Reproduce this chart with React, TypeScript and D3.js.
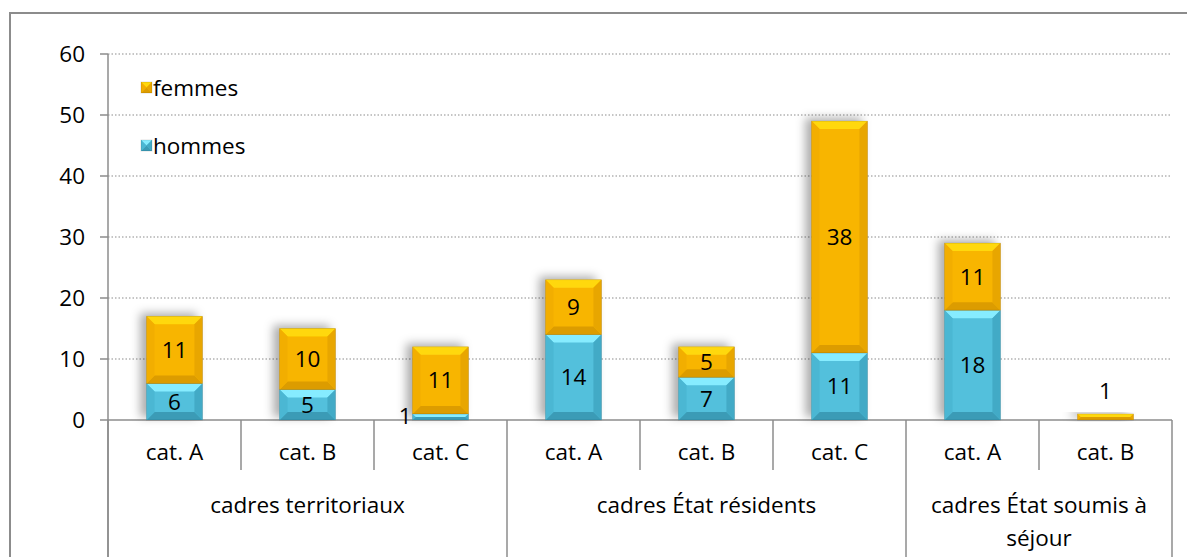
import { useEffect, useRef } from 'react';
import * as d3 from 'd3';

const categories = ['cat. A', 'cat. B', 'cat. C', 'cat. A', 'cat. B', 'cat. C', 'cat. A', 'cat. B'];
const groups = [
  { name: ['cadres territoriaux'], size: 3 },
  { name: ['cadres État résidents'], size: 3 },
  { name: ['cadres État soumis à', 'séjour'], size: 2 },
];
const hommes = [6, 5, 1, 14, 7, 11, 18, 0];
const femmes = [11, 10, 11, 9, 5, 38, 11, 1];
const yTicks = [0, 10, 20, 30, 40, 50, 60];

const FONT = '"Open Sans", "Noto Sans", sans-serif';
const FS = 22.5;

const palette = {
  femmes: { main: '#f8b500', top: '#ffd80c', bottom: '#dc9c00', left: '#f2ae00', right: '#e8a600' },
  hommes: { main: '#52c0dc', top: '#86ecff', bottom: '#3a9bb6', left: '#4bb7d3', right: '#43aac6' },
};

export default function App() {
  const svgRef = useRef<SVGSVGElement | null>(null);

  useEffect(() => {
    if (!svgRef.current) return;
    const width = 1187;
    const height = 557;
    const svg = d3.select(svgRef.current).attr('width', width).attr('height', height);
    svg.selectAll('*').remove();

    const left = 108,
      right = 1172,
      top = 54,
      bottom = 420;

    const x = d3
      .scaleBand<number>()
      .domain(d3.range(categories.length))
      .range([left, right])
      .paddingInner(0.58)
      .paddingOuter(0.29);
    const step = x.step();
    const y = d3.scaleLinear().domain([0, 60]).range([bottom, top]);

    const defs = svg.append('defs');
    const f = defs
      .append('filter')
      .attr('id', 'shadow')
      .attr('x', '-50%')
      .attr('y', '-20%')
      .attr('width', '200%')
      .attr('height', '140%');
    f.append('feDropShadow')
      .attr('dx', -6)
      .attr('dy', -3)
      .attr('stdDeviation', 5)
      .attr('flood-color', '#000')
      .attr('flood-opacity', 0.32);

    // outer frame
    svg
      .append('rect')
      .attr('x', 10)
      .attr('y', 13)
      .attr('width', 1200)
      .attr('height', 600)
      .attr('fill', 'white')
      .attr('stroke', '#8c8c8c')
      .attr('stroke-width', 2);

    // gridlines
    svg
      .append('g')
      .selectAll('line')
      .data(yTicks.filter((t) => t > 0))
      .enter()
      .append('line')
      .attr('x1', left)
      .attr('x2', right)
      .attr('y1', (d) => y(d))
      .attr('y2', (d) => y(d))
      .attr('stroke', '#8c8c8c')
      .attr('stroke-width', 1.2)
      .attr('stroke-dasharray', '1.5,2');

    // y axis
    const ya = svg.append('g');
    ya.append('line')
      .attr('x1', left)
      .attr('x2', left)
      .attr('y1', top)
      .attr('y2', height)
      .attr('stroke', '#8c8c8c')
      .attr('stroke-width', 1.5);
    ya.selectAll('line.tick')
      .data(yTicks)
      .enter()
      .append('line')
      .attr('class', 'tick')
      .attr('x1', left - 8)
      .attr('x2', left)
      .attr('y1', (d) => y(d))
      .attr('y2', (d) => y(d))
      .attr('stroke', '#8c8c8c')
      .attr('stroke-width', 1.5);
    ya.selectAll('text')
      .data(yTicks)
      .enter()
      .append('text')
      .attr('x', 85)
      .attr('y', (d) => y(d) + 8)
      .attr('text-anchor', 'end')
      .attr('font-family', FONT)
      .attr('font-size', FS)
      .text((d) => d);

    // category axis
    const xa = svg.append('g');
    xa.append('line')
      .attr('x1', left)
      .attr('x2', right)
      .attr('y1', bottom)
      .attr('y2', bottom)
      .attr('stroke', '#8c8c8c')
      .attr('stroke-width', 1.5);
    const groupEdges: number[] = [];
    let acc = 0;
    groups.forEach((g) => {
      groupEdges.push(acc);
      acc += g.size;
    });
    groupEdges.push(acc);
    d3.range(categories.length + 1).forEach((i) => {
      const isGroup = groupEdges.includes(i);
      const xx = left + i * step;
      xa.append('line')
        .attr('x1', xx)
        .attr('x2', xx)
        .attr('y1', bottom)
        .attr('y2', isGroup ? height : 470)
        .attr('stroke', '#8c8c8c')
        .attr('stroke-width', 1.5);
    });
    xa.selectAll('text.cat')
      .data(categories)
      .enter()
      .append('text')
      .attr('class', 'cat')
      .attr('x', (_, i) => x(i)! + x.bandwidth() / 2)
      .attr('y', 460)
      .attr('text-anchor', 'middle')
      .attr('font-family', FONT)
      .attr('font-size', FS)
      .text((d) => d);
    groups.forEach((g, gi) => {
      const cx = left + ((groupEdges[gi] + groupEdges[gi + 1]) / 2) * step;
      g.name.forEach((line, li) => {
        xa.append('text')
          .attr('x', cx)
          .attr('y', 513 + li * 33)
          .attr('text-anchor', 'middle')
          .attr('font-family', FONT)
          .attr('font-size', FS)
          .text(line);
      });
    });

    // bars
    const bars = svg.append('g');
    const bevel = (
      g: any,
      x0: number,
      y0: number,
      w: number,
      h: number,
      c: typeof palette.femmes
    ) => {
      if (h <= 0) return;
      const b = Math.min(8, h / 2, w / 2);
      const x1 = x0 + w,
        y1 = y0 + h;
      g.append('rect').attr('x', x0).attr('y', y0).attr('width', w).attr('height', h).attr('fill', c.main);
      const poly = (pts: number[][], fill: string) =>
        g.append('polygon').attr('points', pts.map((p) => p.join(',')).join(' ')).attr('fill', fill);
      poly([[x0, y0], [x1, y0], [x1 - b, y0 + b], [x0 + b, y0 + b]], c.top);
      poly([[x0, y1], [x1, y1], [x1 - b, y1 - b], [x0 + b, y1 - b]], c.bottom);
      poly([[x0, y0], [x0 + b, y0 + b], [x0 + b, y1 - b], [x0, y1]], c.left);
      poly([[x1, y0], [x1 - b, y0 + b], [x1 - b, y1 - b], [x1, y1]], c.right);
      g.append('rect')
        .attr('x', x0)
        .attr('y', y0)
        .attr('width', w)
        .attr('height', h)
        .attr('fill', 'none')
        .attr('stroke', 'rgba(0,0,0,0.15)')
        .attr('stroke-width', 0.8);
    };

    categories.forEach((_, i) => {
      const g = bars.append('g').attr('filter', 'url(#shadow)');
      const bx = x(i)!;
      const bw = x.bandwidth();
      const h0 = y(0) - y(hommes[i]);
      const h1 = y(hommes[i]) - y(hommes[i] + femmes[i]);
      bevel(g, bx, y(hommes[i]), bw, h0, palette.hommes);
      bevel(g, bx, y(hommes[i] + femmes[i]), bw, h1, palette.femmes);
    });

    // data labels
    const labels = svg.append('g').attr('font-family', FONT).attr('font-size', FS).attr('fill', '#000');
    categories.forEach((_, i) => {
      const cx = x(i)! + x.bandwidth() / 2;
      const segs = [
        { v: hommes[i], lo: 0, hi: hommes[i] },
        { v: femmes[i], lo: hommes[i], hi: hommes[i] + femmes[i] },
      ];
      segs.forEach((s, si) => {
        if (s.v <= 0) return;
        const h = y(s.lo) - y(s.hi);
        let tx = cx,
          ty = (y(s.lo) + y(s.hi)) / 2 + 8,
          anchor = 'middle';
        if (h < 20) {
          if (si === 0 && femmes[i] > 0) {
            tx = x(i)! - 1;
            ty = y(s.lo) + 4;
            anchor = 'end';
          } else {
            ty = y(s.hi) - 15;
          }
        }
        labels
          .append('text')
          .attr('x', tx)
          .attr('y', ty)
          .attr('text-anchor', anchor)
          .text(s.v);
      });
    });

    // legend
    const legend = svg.append('g');
    [
      { label: 'femmes', c: palette.femmes, y: 88 },
      { label: 'hommes', c: palette.hommes, y: 146 },
    ].forEach((l) => {
      const lg = legend.append('g');
      bevel(lg, 141, l.y - 6, 11, 11, l.c);
      legend
        .append('text')
        .attr('x', 153)
        .attr('y', l.y + 8)
        .attr('font-family', FONT)
        .attr('font-size', FS)
        .text(l.label);
    });
  }, []);

  return (
    <div style={{ position: 'absolute', left: 0, top: 0 }}>
      <svg ref={svgRef} style={{ display: 'block' }} />
    </div>
  );
}
